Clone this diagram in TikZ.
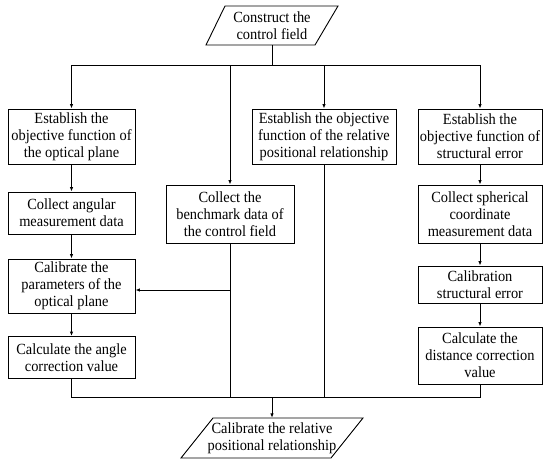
\documentclass[tikz,border=0pt]{standalone}
\usepackage{fontspec}
\setmainfont[FakeStretch=0.93]{Liberation Serif}
\usetikzlibrary{arrows.meta}
\begin{document}
\begin{tikzpicture}[x=1pt,y=-1pt,
  box/.style={draw, line width=0.9pt, align=center, inner sep=0.5pt,
    font=\fontsize{15.5}{17}\selectfont},
  txt/.style={align=center, inner sep=0pt, font=\fontsize{15.5}{17}\selectfont},
  ln/.style={line width=0.9pt},
  arr/.style={line width=0.9pt, -{Latex[length=4.5pt,width=3.5pt]}}]
\useasboundingbox (0,0) rectangle (543,459);
% top parallelogram
\draw[ln] (225,6) -- (338,6) -- (315,45) -- (206,45) -- cycle;
\node[txt, minimum height=39pt] (start) at (272,25.5) {Construct the\\control field};
% bottom parallelogram
\draw[ln] (213,418) -- (363,418) -- (331,458) -- (181,458) -- cycle;
\node[txt, minimum height=40pt] (end) at (272,438) {Calibrate the relative\\positional relationship};
% boxes
\node[box, minimum width=127pt, minimum height=55pt] (b1) at (71.5,136.5) {Establish the\\objective function of\\the optical plane};
\node[box, minimum width=144pt, minimum height=55pt] (b2) at (324,136.5) {Establish the objective\\function of the relative\\positional relationship};
\node[box, minimum width=124pt, minimum height=55pt] (b3) at (480,136.5) {Establish the\\objective function of\\structural error};
\node[box, minimum width=127pt, minimum height=42pt] (b4) at (71.5,213) {Collect angular\\measurement data};
\node[box, minimum width=128pt, minimum height=58pt] (b5) at (230,214) {Collect the\\benchmark data of\\the control field};
\node[box, minimum width=124pt, minimum height=58pt] (b6) at (480,214) {Collect spherical\\coordinate\\measurement data};
\node[box, minimum width=127pt, minimum height=54pt] (b7) at (71.5,286) {Calibrate the\\parameters of the\\optical plane};
\node[box, minimum width=124pt, minimum height=37pt] (b8) at (480,284.5) {Calibration\\structural error};
\node[box, minimum width=127pt, minimum height=42pt] (b9) at (71.5,357.5) {Calculate the angle\\correction value};
\node[box, minimum width=124pt, minimum height=57pt] (b10) at (480,355.5) {Calculate the\\distance correction\\value};
% junctions
\coordinate (top) at (272,65);
\coordinate (bot) at (272,397);
\coordinate (mid) at (230,290);
% connectors from start
\draw[ln] (start.south |- 0,45) -- (top);
\draw[ln] (b1.north |- top) -- (b3.north |- top);
\draw[arr] (b1.north |- top) -- (b1.north);
\draw[arr] (b5.north |- top) -- (b5.north);
\draw[arr] (b2.north |- top) -- (b2.north);
\draw[arr] (b3.north |- top) -- (b3.north);
% left column
\draw[arr] (b1) -- (b4);
\draw[arr] (b4) -- (b7);
\draw[arr] (b7) -- (b9);
% right column
\draw[arr] (b3) -- (b6);
\draw[arr] (b6) -- (b8);
\draw[arr] (b8) -- (b10);
% benchmark to calibrate
\draw[ln] (b5.south) -- (b5.south |- bot);
\draw[arr] (mid) -- (b7.east |- mid);
% to bottom
\draw[ln] (b2.south) -- (b2.south |- bot);
\draw[ln] (b9.south) -- (b9.south |- bot) -- (b10.south |- bot) -- (b10.south);
\draw[arr] (bot) -- (end.north);
\end{tikzpicture}
\end{document}
